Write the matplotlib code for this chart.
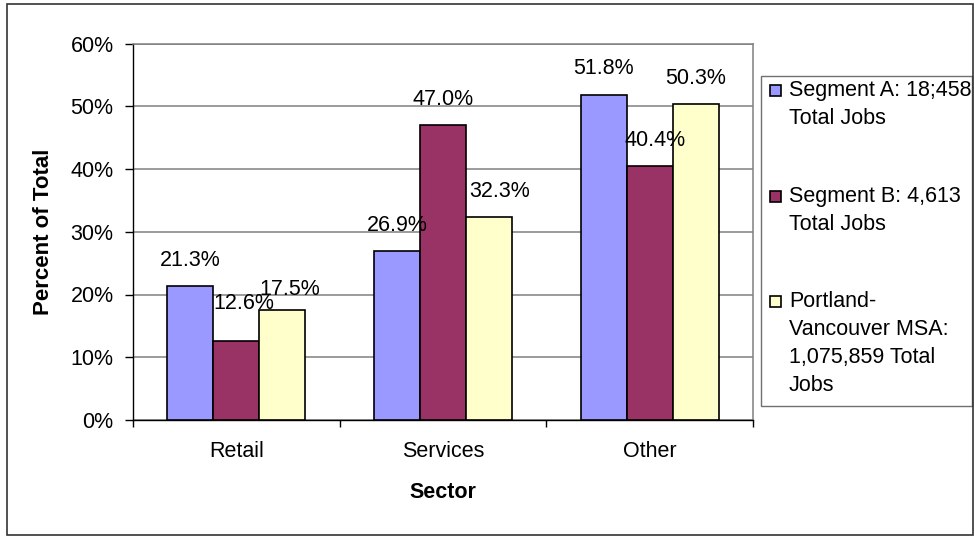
import matplotlib
matplotlib.use("Agg")
import matplotlib.pyplot as plt
from matplotlib.patches import Rectangle
import numpy as np

# ---- data -------------------------------------------------------------
categories = ["Retail", "Services", "Other"]
segment_a = [21.3, 26.9, 51.8]
segment_b = [12.6, 47.0, 40.4]
portland_msa = [17.5, 32.3, 50.3]
series_labels = [
    "Segment A: 18;458\nTotal Jobs",
    "Segment B: 4,613\nTotal Jobs",
    "Portland-\nVancouver MSA:\n1,075,859 Total\nJobs",
]
y_ticks = [0, 10, 20, 30, 40, 50, 60]
x_title = "Sector"
y_title = "Percent of Total"

# ---- style ------------------------------------------------------------
plt.rcParams["font.family"] = ["Liberation Sans", "DejaVu Sans"]
FS = 15.5
colors = ["#9999FF", "#993366", "#FFFFCC"]
W, H = 974, 536
fig = plt.figure(figsize=(W / 100, H / 100), dpi=100)


def px(x, y):
    """pixel position (from top-left) -> figure fraction"""
    return x / W, 1 - y / H


ax = fig.add_axes([133 / W, 1 - 420 / H, 620 / W, 376.5 / H])

series = [segment_a, segment_b, portland_msa]
bar_w = 1 / 4.5
x = np.arange(len(categories))
# small pixel nudges for value labels that would collide
nudges = {(1, 0): (7, 11), (2, 0): (7, -5), (2, 1): (11, 0), (1, 2): (5, 0)}

for k, (vals, col) in enumerate(zip(series, colors)):
    pos = x + (k - 1) * bar_w
    ax.bar(pos, vals, width=bar_w, color=col, edgecolor="black",
           linewidth=1.2, zorder=3)
    for i, (p, v) in enumerate(zip(pos, vals)):
        dx, dy = nudges.get((k, i), (0, 0))
        ax.annotate(f"{v:.1f}%", (p, v), xytext=(dx, 26 + dy),
                    textcoords="offset pixels", ha="center", va="center",
                    fontsize=FS, zorder=4)

ax.set_xlim(-0.5, len(categories) - 0.5)
ax.set_ylim(0, 60)
ax.set_yticks(y_ticks)
ax.set_yticklabels([f"{t}%" for t in y_ticks], fontsize=FS)
ax.yaxis.grid(True, color="#808080", linewidth=1.1, zorder=0)
ax.set_axisbelow(True)

ax.set_xticks(x)
ax.set_xticklabels(categories, fontsize=FS)
ax.set_xticks(np.arange(len(categories) + 1) - 0.5, minor=True)
ax.tick_params(axis="x", which="major", length=0, pad=15)
ax.tick_params(axis="x", which="minor", length=5, width=1, direction="out")
ax.tick_params(axis="y", length=6, width=1, direction="out", pad=8)

for s in ("left", "bottom"):
    ax.spines[s].set_color("black")
    ax.spines[s].set_linewidth(1.0)
for s in ("top", "right"):
    ax.spines[s].set_color("#808080")
    ax.spines[s].set_linewidth(1.1)

ax.set_xlabel(x_title, fontsize=FS, fontweight="bold", va="center")
ax.xaxis.set_label_coords(0.5, (420 - 492) / 376.5)
ax.set_ylabel(y_title, fontsize=16, fontweight="bold", va="center")
ax.yaxis.set_label_coords((44 - 133) / 620, 0.5)

# ---- legend box -------------------------------------------------------
lx0, ly0 = px(760.7, 405.7)
lx1, ly1 = px(971.7, 76)
fig.patches.append(Rectangle((lx0, ly0), lx1 - lx0, ly1 - ly0,
                             transform=fig.transFigure, facecolor="white",
                             edgecolor="#707070", linewidth=1.0, zorder=5))
first_line_y = [90.7, 196.7, 301.7]
line_pitch = 27.8
for lab, col, y0 in zip(series_labels, colors, first_line_y):
    mx, my = px(769.5, y0 + 5.5)
    fig.patches.append(Rectangle((mx, my), 11 / W, 11 / H,
                                 transform=fig.transFigure, facecolor=col,
                                 edgecolor="black", linewidth=1.2, zorder=6))
    for j, line in enumerate(lab.split("\n")):
        tx, ty = px(789, y0 + j * line_pitch)
        fig.text(tx, ty, line, fontsize=FS, ha="left", va="center", zorder=7)

# ---- outer frame ------------------------------------------------------
bx0, by0 = px(6.5, 535)
bx1, by1 = px(972.5, 4)
fig.patches.append(Rectangle((bx0, by0), bx1 - bx0, by1 - by0,
                             transform=fig.transFigure, facecolor="none",
                             edgecolor="#333333", linewidth=1.2, zorder=8))

fig.savefig("out.png", dpi=100, facecolor="white")
